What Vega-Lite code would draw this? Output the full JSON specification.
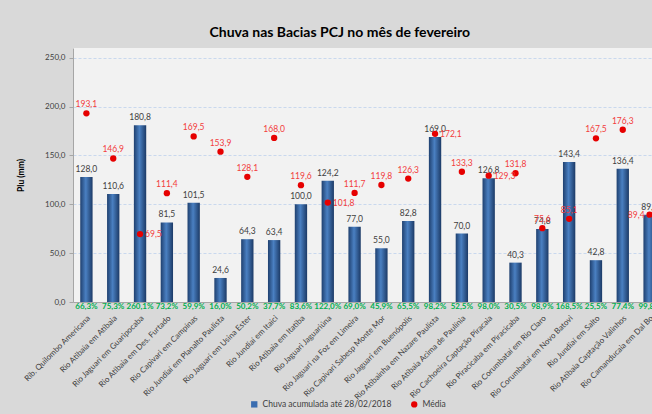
{
  "$schema": "https://vega.github.io/schema/vega-lite/v6.json",
  "autosize": "none",
  "width": 590,
  "height": 254,
  "padding": {"left": 73, "top": 48, "right": 0, "bottom": 112},
  "background": "#d9d9d9",
  "title": {"text": "Chuva nas Bacias PCJ no mês de fevereiro", "fontSize": 14, "font": "Lato", "fontWeight": "bold", "color": "#000000", "anchor": "middle", "frame": "bounds", "offset": 8},
  "config": {
    "locale": {"number": {"decimal": ",", "thousands": ".", "grouping": [3], "currency": ["R$", ""]}},
    "font": "Lato",
    "view": {"fill": "#f2f2f2", "stroke": null}
  },
  "data": {"values": [
    {"estacao": "Rib. Quilombo Americana", "chuva": 128.0, "media": 193.1, "pct": 0.663},
    {"estacao": "Rio Atibaia em Atibaia", "chuva": 110.6, "media": 146.9, "pct": 0.753},
    {"estacao": "Rio Jaguari em Guaripocaba", "chuva": 180.8, "media": 69.5, "pct": 2.601},
    {"estacao": "Rio Atibaia em Des. Furtado", "chuva": 81.5, "media": 111.4, "pct": 0.732},
    {"estacao": "Rio Capivari em  Campinas", "chuva": 101.5, "media": 169.5, "pct": 0.599},
    {"estacao": "Rio Jundiaí em Planalto  Paulista", "chuva": 24.6, "media": 153.9, "pct": 0.160},
    {"estacao": "Rio Jaguari em Usina Ester", "chuva": 64.3, "media": 128.1, "pct": 0.502},
    {"estacao": "Rio Jundiaí em Itaici", "chuva": 63.4, "media": 168.0, "pct": 0.377},
    {"estacao": "Rio Atibaia em Itatiba", "chuva": 100.0, "media": 119.6, "pct": 0.836},
    {"estacao": "Rio Jaguari  Jaguariúna", "chuva": 124.2, "media": 101.8, "pct": 1.220},
    {"estacao": "Rio Jaguari na Foz em Limeira", "chuva": 77.0, "media": 111.7, "pct": 0.690},
    {"estacao": "Rio Capivari Sabesp Monte Mor", "chuva": 55.0, "media": 119.8, "pct": 0.459},
    {"estacao": "Rio Jaguari em Buenópolis", "chuva": 82.8, "media": 126.3, "pct": 0.655},
    {"estacao": "Rio Atibainha em Nazare  Paulista", "chuva": 169.0, "media": 172.1, "pct": 0.982},
    {"estacao": "Rio Atibaia Acima de Paulínia", "chuva": 70.0, "media": 133.3, "pct": 0.525},
    {"estacao": "Rio Cachoeira Captação  Piracaia", "chuva": 126.8, "media": 129.3, "pct": 0.980},
    {"estacao": "Rio Piracicaba em Piracicaba", "chuva": 40.3, "media": 131.8, "pct": 0.305},
    {"estacao": "Rio Corumbataí em Rio Claro", "chuva": 74.8, "media": 75.6, "pct": 0.989},
    {"estacao": "Rio Corumbataí  em Novo Batovi", "chuva": 143.4, "media": 85.1, "pct": 1.685},
    {"estacao": "Rio Jundiaí  em Salto", "chuva": 42.8, "media": 167.5, "pct": 0.255},
    {"estacao": "Rio Atibaia Captação  Valinhos", "chuva": 136.4, "media": 176.3, "pct": 0.774},
    {"estacao": "Rio Camanducaia em Dal Bo", "chuva": 89.2, "media": 89.4, "pct": 0.998}
  ]},
  "encoding": {
    "x": {"field": "estacao", "type": "nominal", "sort": null,
      "scale": {"paddingInner": 0, "paddingOuter": 0},
      "axis": {"title": null, "labelAngle": -45, "labelFontSize": 8, "labelColor": "#404040", "ticks": false, "domainColor": "#a6a6a6", "labelPadding": 12, "labelLimit": 200}}
  },
  "layer": [
    {
      "mark": {"type": "bar", "width": {"band": 0.46},
        "fill": {"gradient": "linear", "x1": 0, "x2": 1, "y1": 0, "y2": 0,
          "stops": [{"offset": 0, "color": "#1f406f"}, {"offset": 0.45, "color": "#4a80c2"}, {"offset": 1, "color": "#1c3a66"}]}},
      "encoding": {
        "y": {"field": "chuva", "type": "quantitative",
          "scale": {"domain": [0, 250]},
          "axis": {"title": "Plu (mm)", "titleFontSize": 8.5, "titleFontWeight": "bold", "titleColor": "#000000", "titlePadding": 19,
            "values": [0, 50, 100, 150, 200, 250], "format": ".1f", "labelFontSize": 8, "labelColor": "#404040",
            "domainColor": "#a6a6a6", "tickColor": "#a6a6a6", "tickSize": 4, "labelPadding": 4,
            "grid": true, "gridColor": "#c9d8ee", "gridDash": [3, 2]}}
      }
    },
    {
      "mark": {"type": "text", "dy": -8, "fontSize": 8.5, "color": "#404040"},
      "encoding": {
        "y": {"field": "chuva", "type": "quantitative"},
        "text": {"field": "chuva", "type": "quantitative", "format": ".1f"}
      }
    },
    {
      "mark": {"type": "point", "filled": true, "size": 40, "opacity": 1},
      "encoding": {
        "y": {"field": "media", "type": "quantitative"},
        "color": {"datum": "Média", "type": "nominal",
          "scale": {"domain": ["Chuva acumulada até 28/02/2018", "Média"], "range": ["#3a6db0", "#e60000"]},
          "legend": {"title": null, "orient": "none", "legendX": 177, "legendY": 352, "direction": "horizontal",
            "labelFontSize": 8.5, "labelColor": "#404040", "symbolSize": 40, "columnPadding": 18, "symbolStrokeWidth": 0}},
        "shape": {"datum": "Média", "type": "nominal",
          "scale": {"domain": ["Chuva acumulada até 28/02/2018", "Média"], "range": ["square", "circle"]},
          "legend": {"title": null, "orient": "none", "legendX": 177, "legendY": 352, "direction": "horizontal",
            "labelFontSize": 8.5, "labelColor": "#404040", "symbolSize": 40, "columnPadding": 18}}
      }
    },
    {
      "transform": [{"filter": {"not": {"field": "estacao", "oneOf": ["Rio Jaguari em Guaripocaba", "Rio Jaguari  Jaguariúna", "Rio Atibainha em Nazare  Paulista", "Rio Cachoeira Captação  Piracaia", "Rio Camanducaia em Dal Bo"]}}}],
      "mark": {"type": "text", "dy": -9, "fontSize": 8.5, "color": "#f23c3c"},
      "encoding": {
        "y": {"field": "media", "type": "quantitative"},
        "text": {"field": "media", "type": "quantitative", "format": ".1f"}
      }
    },
    {
      "transform": [{"filter": {"field": "estacao", "oneOf": ["Rio Jaguari em Guaripocaba", "Rio Jaguari  Jaguariúna", "Rio Atibainha em Nazare  Paulista", "Rio Cachoeira Captação  Piracaia"]}}],
      "mark": {"type": "text", "dx": 5, "align": "left", "fontSize": 8.5, "color": "#f23c3c"},
      "encoding": {
        "y": {"field": "media", "type": "quantitative"},
        "text": {"field": "media", "type": "quantitative", "format": ".1f"}
      }
    },
    {
      "transform": [{"filter": {"field": "estacao", "oneOf": ["Rio Camanducaia em Dal Bo"]}}],
      "mark": {"type": "text", "dx": -5, "align": "right", "fontSize": 8.5, "color": "#f23c3c"},
      "encoding": {
        "y": {"field": "media", "type": "quantitative"},
        "text": {"field": "media", "type": "quantitative", "format": ".1f"}
      }
    },
    {
      "mark": {"type": "text", "baseline": "top", "dy": 1, "fontSize": 8, "fontWeight": "bold", "color": "#00b050"},
      "encoding": {
        "y": {"datum": 0, "type": "quantitative"},
        "text": {"field": "pct", "type": "quantitative", "format": ".1%"}
      }
    }
  ]
}
